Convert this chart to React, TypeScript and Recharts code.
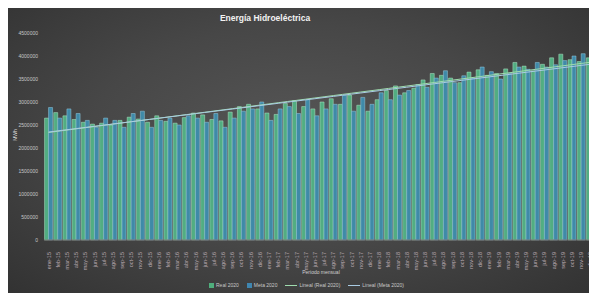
import React from 'react';
import { ComposedChart, Bar, Line, XAxis, YAxis } from 'recharts';

const monthNames = ['ene', 'feb', 'mar', 'abr', 'may', 'jun', 'jul', 'ago', 'sep', 'oct', 'nov', 'dic'];
const yearSuffixes = ['15', '16', '17', '18', '19'];

// Real generation (MWh)
const realValues = [
  2650000, 2770000, 2700000, 2620000, 2560000, 2520000, 2540000, 2500000, 2600000, 2670000,
  2630000, 2560000, 2700000, 2580000, 2540000, 2660000, 2760000, 2720000, 2620000, 2590000,
  2780000, 2900000, 2950000, 2850000, 2760000, 2730000, 2970000, 3030000, 2900000, 2850000,
  3000000, 3070000, 2950000, 3150000, 2930000, 2800000, 3050000, 3250000, 3350000, 3200000,
  3300000, 3480000, 3620000, 3580000, 3520000, 3420000, 3650000, 3700000, 3580000, 3620000,
  3720000, 3860000, 3780000, 3680000, 3820000, 3960000, 4040000, 3920000, 3880000, 3960000,
];

// Target (MWh)
const metaValues = [
  2880000, 2650000, 2850000, 2750000, 2600000, 2450000, 2650000, 2600000, 2450000, 2750000,
  2800000, 2450000, 2600000, 2650000, 2500000, 2700000, 2650000, 2560000, 2750000, 2450000,
  2650000, 2800000, 2850000, 3000000, 2600000, 2850000, 2900000, 2750000, 3050000, 2700000,
  2850000, 2950000, 3150000, 2800000, 3100000, 2950000, 3200000, 3050000, 3150000, 3250000,
  3380000, 3320000, 3520000, 3680000, 3420000, 3570000, 3520000, 3760000, 3660000, 3500000,
  3620000, 3760000, 3710000, 3860000, 3760000, 3810000, 3900000, 4000000, 4050000, 3900000,
];

const yTicks = [0, 500000, 1000000, 1500000, 2000000, 2500000, 3000000, 3500000, 4000000, 4500000];

const legendItems = [
  { label: 'Real 2020', color: '#4fae7c', kind: 'bar' },
  { label: 'Meta 2020', color: '#3f86b0', kind: 'bar' },
  { label: 'Lineal (Real 2020)', color: '#9fdcae', kind: 'line' },
  { label: 'Lineal (Meta 2020)', color: '#a9cbe3', kind: 'line' },
];

const categories: string[] = [];
yearSuffixes.forEach((y) => monthNames.forEach((m) => categories.push(`${m}-${y}`)));

// linear trend (least squares), like the spreadsheet trendline
function trend(values: number[]) {
  const n = values.length;
  let sx = 0, sy = 0, sxy = 0, sxx = 0;
  values.forEach((v, i) => {
    sx += i; sy += v; sxy += i * v; sxx += i * i;
  });
  const b = (n * sxy - sx * sy) / (n * sxx - sx * sx);
  const a = (sy - b * sx) / n;
  return values.map((_, i) => a + b * i);
}

const realTrend = trend(realValues);
const metaTrend = trend(metaValues);

const data = categories.map((c, i) => ({
  name: c,
  real: realValues[i],
  meta: metaValues[i],
  trendReal: realTrend[i],
  trendMeta: metaTrend[i],
}));

const FONT = '"Liberation Sans", Arial, sans-serif';

const XTick = (props: any) => {
  const { x, y, payload } = props;
  return (
    <text
      x={x}
      y={y}
      transform={`rotate(-90 ${x} ${y})`}
      textAnchor="end"
      dx={-4}
      dy={2}
      fontSize={5.5}
      fontFamily={FONT}
      fill="#b9a9b1"
    >
      {payload.value}
    </text>
  );
};

export default function App() {
  return (
    <div
      style={{
        position: 'relative',
        left: -4,
        width: 593,
        height: 285,
        background: 'radial-gradient(ellipse at 50% 45%, #565656 0%, #474747 50%, #323232 100%)',
        fontFamily: FONT,
        overflow: 'hidden',
      }}
    >
      <div
        style={{
          position: 'absolute',
          top: 5,
          left: 0,
          width: 522,
          textAlign: 'center',
          color: '#f2f2f2',
          fontSize: 8.5,
          fontWeight: 'bold',
        }}
      >
        Energía Hidroeléctrica
      </div>
      <div
        style={{
          position: 'absolute',
          left: -2,
          top: 124,
          width: 26,
          textAlign: 'center',
          transform: 'rotate(-90deg)',
          color: '#d9d9d9',
          fontSize: 5,
        }}
      >
        MWh
      </div>
      <ComposedChart
        width={593}
        height={285}
        data={data}
        margin={{ top: 25, right: 2, left: 0, bottom: 27 }}
        barCategoryGap="6%"
        barGap={0}
      >
        <XAxis
          dataKey="name"
          interval={0}
          tick={<XTick />}
          tickLine={false}
          axisLine={{ stroke: '#6e6e6e' }}
          height={26}
        />
        <YAxis
          domain={[0, 4500000]}
          ticks={yTicks}
          width={40}
          tickLine={false}
          axisLine={false}
          tick={{ fontSize: 5, fill: '#c8c8c8', fontFamily: FONT }}
          tickMargin={0}
        />
        <Bar dataKey="real" fill="#52ad82" stroke="#b0e6c6" strokeWidth={0.5} isAnimationActive={false} />
        <Bar dataKey="meta" fill="#3f8aa8" stroke="#96cbe0" strokeWidth={0.5} isAnimationActive={false} />
        <Line type="linear" dataKey="trendReal" stroke="#9fdcae" strokeWidth={1} dot={false} isAnimationActive={false} />
        <Line type="linear" dataKey="trendMeta" stroke="#a9cbe3" strokeWidth={1} dot={false} isAnimationActive={false} />
      </ComposedChart>
      <div
        style={{
          position: 'absolute',
          top: 261,
          left: 250,
          width: 134,
          textAlign: 'center',
          color: '#d0d0d0',
          fontSize: 5,
        }}
      >
        Periodo mensual
      </div>
      <div
        style={{
          position: 'absolute',
          top: 274,
          left: 205,
          display: 'flex',
          gap: 8,
          alignItems: 'center',
          color: '#c8c8c8',
          fontSize: 5,
        }}
      >
        {legendItems.map((it) => (
          <div key={it.label} style={{ display: 'flex', alignItems: 'center', gap: 2 }}>
            {it.kind === 'bar' ? (
              <span style={{ display: 'inline-block', width: 5, height: 5, background: it.color }} />
            ) : (
              <span style={{ display: 'inline-block', width: 12, height: 1, background: it.color }} />
            )}
            <span>{it.label}</span>
          </div>
        ))}
      </div>
    </div>
  );
}
